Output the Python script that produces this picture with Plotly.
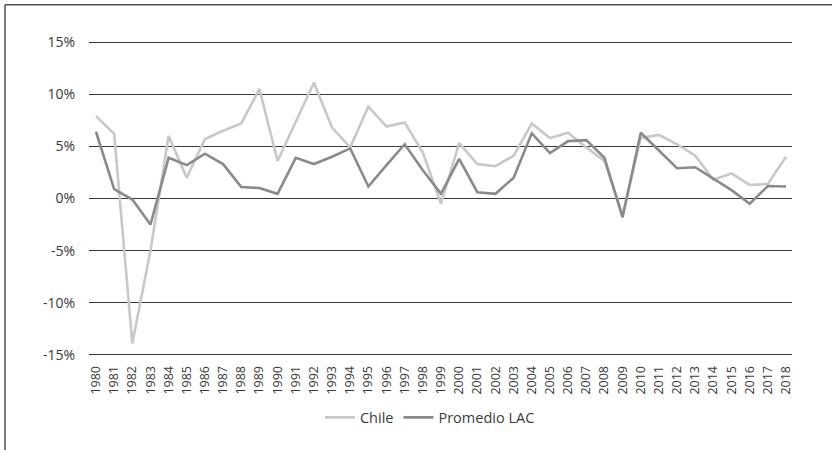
import plotly.graph_objects as go

years = list(range(1980, 2019))
chile = [7.9, 6.2, -13.9, -5.0, 6.0, 2.0, 5.7, 6.5, 7.2, 10.5,
         3.6, 7.4, 11.1, 6.8, 4.9, 8.8, 6.9, 7.3, 4.4, -0.5,
         5.3, 3.3, 3.1, 4.1, 7.2, 5.8, 6.3, 4.9, 3.6, -1.6,
         5.8, 6.1, 5.2, 4.1, 1.8, 2.4, 1.3, 1.4, 4.0]
lac = [6.4, 0.9, -0.1, -2.5, 3.9, 3.2, 4.3, 3.3, 1.1, 1.0,
       0.45, 3.9, 3.3, 4.0, 4.8, 1.15, 3.2, 5.2, 2.7, 0.45,
       3.8, 0.6, 0.45, 2.0, 6.25, 4.35, 5.5, 5.6, 3.9, -1.8,
       6.3, 4.6, 2.9, 3.0, 1.9, 0.8, -0.5, 1.2, 1.15]
ytick_vals = [-15, -10, -5, 0, 5, 10, 15]
ytick_text = ["-15%", "-10%", "-5%", "0%", "5%", "10%", "15%"]
series_names = ["Chile", "Promedio LAC"]

fig = go.Figure()
fig.add_trace(go.Scatter(x=years, y=chile, mode="lines", name=series_names[0],
                         line=dict(color="#c8c8c8", width=2.6)))
fig.add_trace(go.Scatter(x=years, y=lac, mode="lines", name=series_names[1],
                         line=dict(color="#8a8a8a", width=2.6)))

# plot area: x 89..792, y 41..356 (range slightly padded so edge gridlines show)
fig.update_layout(
    width=832, height=450,
    margin=dict(l=89, r=40, t=41, b=94),
    paper_bgcolor="white", plot_bgcolor="white",
    font=dict(family="Open Sans", color="#3a3a3a"),
    showlegend=True,
    legend=dict(orientation="h", x=0.485, xanchor="center", y=-0.195, yanchor="middle",
                font=dict(size=14.5, color="#3a3a3a"), bgcolor="rgba(0,0,0,0)"),
    xaxis=dict(range=[1979.615, 2018.33], tickvals=years, ticktext=[str(y) for y in years],
               tickangle=-90, showgrid=False, zeroline=False, showline=False,
               ticks="outside", ticklen=4, tickcolor="rgba(0,0,0,0)",
               tickfont=dict(size=12.5, color="#3a3a3a")),
    yaxis=dict(range=[-15.1, 15.1], tickvals=ytick_vals, ticktext=ytick_text,
               showgrid=True, gridcolor="#3a3a3a", gridwidth=1.3,
               zeroline=False, showline=False,
               ticks="outside", ticklen=10, tickcolor="rgba(0,0,0,0)",
               tickfont=dict(size=14, color="#3a3a3a")),
    shapes=[
        dict(type="line", xref="paper", yref="paper", x0=-0.1195, x1=1.2, y0=1.115, y1=1.115,
             line=dict(color="#505050", width=1.5)),
        dict(type="line", xref="paper", yref="paper", x0=-0.1195, x1=-0.1195, y0=1.115, y1=-0.5,
             line=dict(color="#505050", width=1.5)),
    ],
)

fig.write_html("out.html", config={"displayModeBar": False},
               post_script="document.body.style.margin='0px';")
